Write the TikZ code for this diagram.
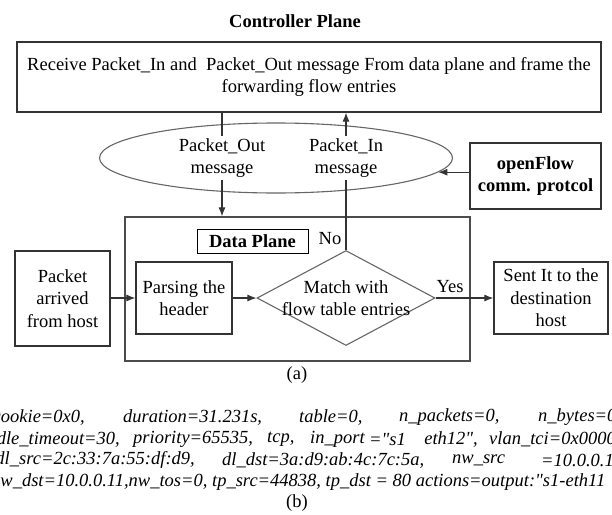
\documentclass[tikz,border=0pt]{standalone}
\usepackage{fontspec}
\setmainfont{Liberation Serif}
\newfontfamily\codefont{Liberation Serif}[Ligatures=TeXOff]
\usetikzlibrary{shapes.geometric,arrows.meta}
\begin{document}
\begin{tikzpicture}[x=1pt,y=-1pt,
  every node/.style={font=\fontsize{18.5}{22.5}\selectfont, inner sep=0pt},
  box/.style={draw=black!80, line width=1.2pt, rectangle, align=center},
  lbl/.style={align=center},
  wlbl/.style={align=center, fill=white, inner sep=2pt},
  conn/.style={draw=black!80, line width=1.1pt},
  arr/.style={conn, -{Latex[length=9pt,width=7pt]}},
  code/.style={font=\fontsize{18.5}{22.5}\selectfont\codefont\itshape}
]
\useasboundingbox (0,0) rectangle (612,514);
\clip (0,0) rectangle (612,514);

% Controller plane
\node[lbl, font=\fontsize{18.5}{22.5}\selectfont\bfseries] (title) at (295,21) {Controller Plane};
\node[box, minimum width=584pt, minimum height=70pt] (top) at (309,77)
  {Receive Packet\_In and\ \ Packet\_Out message From data plane and frame the\\forwarding flow entries};

\node[draw=black!60, line width=1.1pt, ellipse, minimum width=353pt, minimum height=70pt] (ell) at (276,158) {};
\node[wlbl] (po) at (222,158) {Packet\_Out\\message};
\node[wlbl] (pi) at (346,158) {Packet\_In\\message};

\node[box, minimum width=131pt, minimum height=66pt, font=\fontsize{18.5}{22.5}\selectfont\bfseries] (of) at (535.5,176) {openFlow\\comm. protcol};

% Data plane
\node[draw=black!70, line width=1.2pt, rectangle, minimum width=345pt, minimum height=144pt] (dp) at (297.5,289) {};
\node[draw=black, line width=1pt, rectangle, minimum width=111pt, minimum height=24pt, font=\fontsize{18.5}{22.5}\selectfont\bfseries] (dpl) at (252.5,241) {Data Plane};

\node[box, minimum width=95pt, minimum height=95pt] (pk) at (62.5,298.5) {Packet\\arrived\\from host};
\node[box, minimum width=96pt, minimum height=72pt] (ps) at (184,298) {Parsing the\\header};
\node[draw=black!60, line width=1.1pt, diamond, minimum width=178pt, minimum height=95pt] (dia) at (346,298) {};
\node[lbl] (dtx) at (346,298) {Match with\\flow table entries};
\node[box, minimum width=114pt, minimum height=72pt] (sent) at (551,298) {Sent It to the\\destination\\host};

\node[lbl] (no) at (330,239) {No};
\node[lbl] (yes) at (450,287) {Yes};
\node[lbl] (a) at (297,375) {(a)};

% connectors
\draw[conn] (top.south -| po.north) -- (po.north);
\draw[arr] (po.south) -- (dp.north -| po.south);
\draw[conn] (dia.north) -- (pi.south);
\draw[arr] (pi.north) -- (top.south -| pi.north);
\draw[arr] (ell.-5 -| of.west) -- (ell.-5);
\draw[arr] (pk.east |- ps.west) -- (ps.west);
\draw[arr] (ps.east) -- (dia.west);
\draw[arr] (dia.east) -- (sent.west);

% flow entry text (b)
\node[code, anchor=east] (c1a) at (85,417) {cookie=0x0,};
\node[code, anchor=west] (c1b) at (123,417) {duration=31.231s,};
\node[code, anchor=west] (c1c) at (299,417) {table=0,};
\node[code, anchor=west] (c1d) at (399,417) {n\_packets=0,};
\node[code, anchor=west] (c1e) at (538,417) {n\_bytes=0,};

\node[code, anchor=east] (c2a) at (120,439) {idle\_timeout=30,};
\node[code, anchor=west] (c2b) at (133,439) {priority=65535,};
\node[code, anchor=west] (c2c) at (267,439) {tcp,};
\node[code, anchor=west] (c2d) at (310,439) {in\_port};
\node[code, anchor=west] (c2e) at (369,439) {="s1};
\node[code, anchor=east] (c2f) at (478,439) {eth12",};
\node[code, anchor=west] (c2g) at (489,439) {vlan\_tci=0x0000,};

\node[code, anchor=east] (c3a) at (195,460) {dl\_src=2c:33:7a:55:df:d9,};
\node[code, anchor=west] (c3b) at (222,460) {dl\_dst=3a:d9:ab:4c:7c:5a,};
\node[code, anchor=west] (c3c) at (452,460) {nw\_src};
\node[code, anchor=west] (c3d) at (541,460) {=10.0.0.12};

\node[code, anchor=west] (c4a) at (-9,482) {nw\_dst=10.0.0.11,nw\_tos=0, tp\_src=44838, tp\_dst = 80 actions=output:"s1-eth11};
\node[lbl] (b) at (297,503) {(b)};
\end{tikzpicture}
\end{document}
